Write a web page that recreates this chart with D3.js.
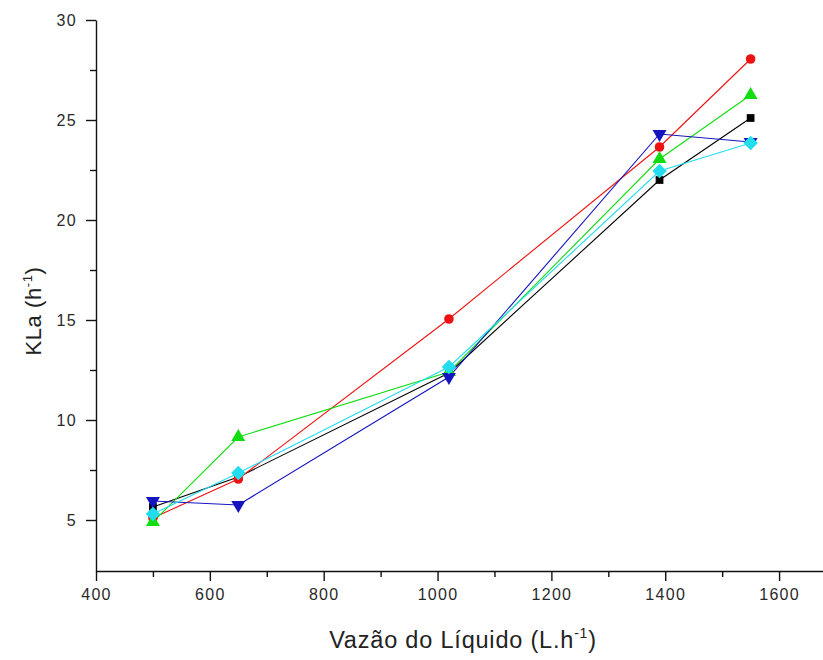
<!DOCTYPE html>
<html>
<head>
<meta charset="utf-8">
<script src="https://cdn.jsdelivr.net/npm/d3@7"></script>
<style>
  body { margin: 0; background: #fff; }
  svg { display: block; font-family: "Liberation Sans", Arial, sans-serif; }
</style>
</head>
<body>
<div id="chart"></div>
<script>
// vazão do líquido (L/h)
const flows = [500, 650, 1020, 1390, 1550];

const kBlack = [5.65, 7.15, 12.35, 22.0, 25.1];
const kRed   = [5.1, 7.05, 15.05, 23.65, 28.05];
const kGreen = [4.9, 9.15, 12.4, 23.05, 26.25];
const kBlue  = [5.95, 5.75, 12.15, 24.3, 23.9];
const kCyan  = [5.3, 7.35, 12.65, 22.45, 23.85];

const xTicks = [400, 600, 800, 1000, 1200, 1400, 1600];
const yTicks = [5, 10, 15, 20, 25, 30];

const width = 823, height = 660;
const margin = {top: 20, right: -13, bottom: 89, left: 96};

const series = [
  {vals: kBlack, color: "#000000", sym: d3.symbolSquare, size: 60, rot: 0},
  {vals: kRed, color: "#ee1111", sym: d3.symbolCircle, size: 72, rot: 0},
  {vals: kGreen, color: "#11dd11", sym: d3.symbolTriangle, size: 85, rot: 0},
  {vals: kBlue, color: "#1515c0", sym: d3.symbolTriangle, size: 85, rot: 180},
  {vals: kCyan, color: "#22ddee", sym: d3.symbolSquare, size: 105, rot: 45}
];

const svg = d3.select("#chart").append("svg")
  .attr("width", width)
  .attr("height", height);

const x = d3.scaleLinear()
  .domain([400, 1700])
  .range([margin.left, width - margin.right]);

const y = d3.scaleLinear()
  .domain([2.45, 30])
  .range([height - margin.bottom, margin.top]);

// minor ticks first
svg.append("g")
  .attr("transform", `translate(0,${height - margin.bottom})`)
  .call(d3.axisBottom(x).tickValues([500, 700, 900, 1100, 1300, 1500]).tickSize(6).tickFormat(""))
  .call(g => g.select(".domain").remove());

svg.append("g")
  .attr("transform", `translate(${margin.left},0)`)
  .call(d3.axisLeft(y).tickValues([7.5, 12.5, 17.5, 22.5, 27.5]).tickSize(6).tickFormat(""))
  .call(g => g.select(".domain").remove());

svg.append("g")
  .attr("transform", `translate(0,${height - margin.bottom})`)
  .call(d3.axisBottom(x).tickValues(xTicks).tickFormat(d3.format("d"))
    .tickSize(10).tickSizeOuter(0).tickPadding(8));

svg.append("g")
  .attr("transform", `translate(${margin.left},0)`)
  .call(d3.axisLeft(y).tickValues(yTicks).tickSize(10).tickSizeOuter(0).tickPadding(9));

svg.selectAll(".tick text")
  .attr("font-size", 16)
  .attr("letter-spacing", 1.3)
  .attr("font-family", "Liberation Sans, Arial, sans-serif")
  .attr("fill", "#2a2a2a");
svg.selectAll(".domain, .tick line")
  .attr("stroke", "#111")
  .attr("stroke-width", 1.4);

// lines
const line = d3.line()
  .x((d, i) => x(flows[i]))
  .y(d => y(d));

series.forEach(s => {
  svg.append("path")
    .datum(s.vals)
    .attr("fill", "none")
    .attr("stroke", s.color)
    .attr("stroke-width", 1.1)
    .attr("d", line);
});

series.forEach(s => {
  svg.append("g")
    .selectAll("path")
    .data(s.vals)
    .join("path")
    .attr("transform", (d, i) => `translate(${x(flows[i])},${y(d)}) rotate(${s.rot})`)
    .attr("d", d3.symbol().type(s.sym).size(s.size))
    .attr("fill", s.color);
});

// titles
const xt = svg.append("text")
  .attr("x", 463)
  .attr("y", 648)
  .attr("text-anchor", "middle")
  .attr("font-size", 23.5)
  .attr("letter-spacing", 0.8)
  .attr("fill", "#222");
xt.append("tspan").text("Vazão do Líquido (L.h");
xt.append("tspan").attr("font-size", 14).attr("dy", -10).text("-1");
xt.append("tspan").attr("dy", 10).text(")");

const yt = svg.append("text")
  .attr("transform", "translate(41,311) rotate(-90)")
  .attr("text-anchor", "middle")
  .attr("font-size", 22)
  .attr("letter-spacing", 0.6)
  .attr("fill", "#222");
yt.append("tspan").text("KLa (h");
yt.append("tspan").attr("font-size", 13).attr("dy", -9).text("-1");
yt.append("tspan").attr("dy", 9).text(")");
</script>
</body>
</html>
